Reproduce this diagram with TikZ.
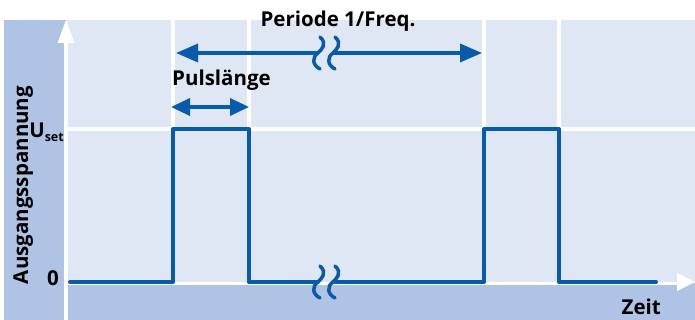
\documentclass[tikz,border=0pt]{standalone}
\usepackage{fontspec}
\setmainfont{Open Sans}
\usetikzlibrary{arrows.meta}
\definecolor{bandblue}{RGB}{175,196,229}
\definecolor{paneblue}{RGB}{224,231,244}
\definecolor{sigblue}{RGB}{8,90,170}
\tikzset{
  label/.style={font=\fontsize{20.5}{22}\selectfont\bfseries, inner sep=0pt},
  gridline/.style={white, line width=4pt},
  signal/.style={sigblue, line width=4pt, line join=round, line cap=round},
  dimline/.style={sigblue, line width=3.5pt},
  squiggle/.style={sigblue, line width=3.5pt, line cap=round},
  axishead/.style={fill=white}
}
% a break mark centred on (#1,#2)
\newcommand{\breakmark}[2]{%
  \draw[squiggle] (#1+2,#2-16) .. controls (#1+10,#2-9) and (#1+3,#2-3) .. (#1,#2)
    .. controls (#1-6,#2+4) and (#1-6,#2+12) .. (#1+2,#2+16);}
\begin{document}
\begin{tikzpicture}[x=1pt,y=-1pt]
\useasboundingbox (0,0) rectangle (695,320);
% background panels
\fill[bandblue] (4,20) rectangle (695,320);
\fill[paneblue] (66,20) rectangle (695,283);
% grid
\foreach \gx in {173,249,484,559}
  \draw[gridline] (\gx,20) -- (\gx,283);
\draw[gridline] (66,129) -- (695,129);
% axes
\coordinate (yfoot) at (66,320);
\coordinate (ytip) at (66,20);
\coordinate (xfoot) at (66,283.5);
\coordinate (xtip) at (695,282);
\draw[white, line width=4pt] (yfoot) -- (66,40);
\fill[axishead] (57.5,43) -- (ytip) -- (74.5,43) -- cycle;
\draw[white, line width=3.5pt] (xfoot) -- (680,283.5);
\fill[axishead] (677,273) -- (xtip) -- (677,291) -- cycle;
% pulse train
\coordinate (s0) at (70,282);
\coordinate (r1) at (173,282);
\coordinate (h1) at (173,129);
\coordinate (h2) at (249,129);
\coordinate (f1) at (249,282);
\coordinate (b1) at (318,282);
\coordinate (b2) at (333,282);
\coordinate (r2) at (484,282);
\coordinate (h3) at (484,129);
\coordinate (h4) at (559,129);
\coordinate (f2) at (559,282);
\coordinate (s1) at (656,282);
\draw[signal] (s0) -- (r1) -- (h1) -- (h2) -- (f1) -- (b1);
\draw[signal] (b2) -- (r2) -- (h3) -- (h4) -- (f2) -- (s1);
\breakmark{318}{282}
\breakmark{333}{282}
% period dimension
\coordinate (pa) at (176,53);
\coordinate (pb) at (318,53);
\coordinate (pc) at (333,53);
\coordinate (pd) at (482,53);
\draw[dimline, {Triangle[length=22pt,width=18pt]}-] (pa) -- (pb);
\draw[dimline, -{Triangle[length=22pt,width=18pt]}] (pc) -- (pd);
\breakmark{318}{53}
\breakmark{333}{53}
% pulse width dimension
\coordinate (wa) at (171,107);
\coordinate (wb) at (249,107);
\draw[dimline, {Triangle[length=19pt,width=17pt]}-{Triangle[length=19pt,width=17pt]}] (wa) -- (wb);
% labels
\node[label, anchor=base] (period) at (338,27) {Periode 1/Freq.};
\node[label, anchor=base west] (pwidth) at (172,86) {Pulslänge};
\node[label, anchor=base east] (zeit) at (661,314) {Zeit};
\node[label, anchor=base east] (zero) at (59,285) {0};
\node[label, anchor=base east] (uset) at (64,138) {U\raisebox{-4pt}{\fontsize{12.5}{13}\selectfont set}};
\node[label, anchor=base, rotate=90] (yname) at (28,185) {Ausgangsspannung};
\end{tikzpicture}
\end{document}
